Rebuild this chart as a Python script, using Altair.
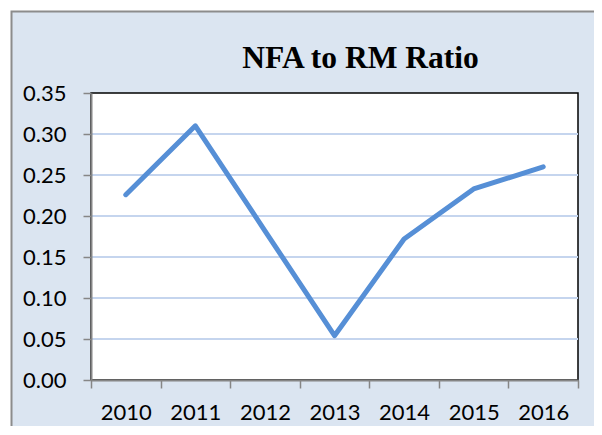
import altair as alt
import pandas as pd

years = ["2010", "2011", "2012", "2013", "2014", "2015", "2016"]
ratios = [0.226, 0.310, 0.182, 0.054, 0.172, 0.233, 0.260]
y_ticks = [0.0, 0.05, 0.10, 0.15, 0.20, 0.25, 0.30, 0.35]
grid_vals = [0.05, 0.10, 0.15, 0.20, 0.25, 0.30]
title_text = "NFA to RM Ratio"

W, H = 487, 287

df = pd.DataFrame({"year": years, "ratio": ratios})
grid_df = pd.DataFrame({"g": grid_vals})
one = pd.DataFrame({"a": [0]})

bg = alt.Chart(one).mark_rect(fill="#dbe5f1", stroke="#8c8c8c", strokeWidth=2).encode(
    x=alt.value(-79.5), x2=alt.value(620), y=alt.value(-81.5), y2=alt.value(420)
)

plot_rect = alt.Chart(one).mark_rect(fill="white", stroke="black", strokeWidth=1.5).encode(
    x=alt.value(0), x2=alt.value(W), y=alt.value(0), y2=alt.value(H)
)

grid = alt.Chart(grid_df).mark_rule(color="#c5d5ee", strokeWidth=2).encode(
    y=alt.Y("g:Q", scale=alt.Scale(domain=[0, 0.35], nice=False, zero=True)),
    x=alt.value(0), x2=alt.value(W)
)

line = alt.Chart(df).mark_line(
    color="#568fd6", strokeWidth=5, strokeJoin="round", strokeCap="round"
).encode(
    x=alt.X("year:O", sort=years,
            scale=alt.Scale(type="band", paddingInner=0, paddingOuter=0),
            axis=alt.Axis(title=None, labelAngle=0, tickBand="extent", grid=False,
                          domainColor="#868686", domainWidth=2, tickColor="#868686",
                          tickWidth=1.5, tickSize=8, labelFont="Lato", labelFontSize=22,
                          labelColor="black", labelBaseline="alphabetic", labelPadding=31,
                          zindex=1)),
    y=alt.Y("ratio:Q", scale=alt.Scale(domain=[0, 0.35], nice=False, zero=True),
            axis=alt.Axis(title=None, values=y_ticks, format=".2f", grid=False,
                          domainColor="#868686", domainWidth=2, tickColor="#868686",
                          tickWidth=1.5, tickSize=8, labelFont="Lato", labelFontSize=22,
                          labelColor="black", labelPadding=17, zindex=1))
)

title = alt.Chart(one).mark_text(
    text=title_text, font="Liberation Serif", fontWeight="bold", fontSize=31.5,
    align="center", baseline="alphabetic", color="black"
).encode(x=alt.value(269.5), y=alt.value(-24.7))

chart = alt.layer(bg, plot_rect, grid, line, title).resolve_scale(y="shared").properties(
    width=W, height=H,
    autosize=alt.AutoSizeParams(type="none"),
    padding={"left": 83, "top": 85, "right": 16, "bottom": 46},
    background="white",
).configure_view(stroke=None)

chart.save("out.html", embed_options={"renderer": "svg", "actions": False})
